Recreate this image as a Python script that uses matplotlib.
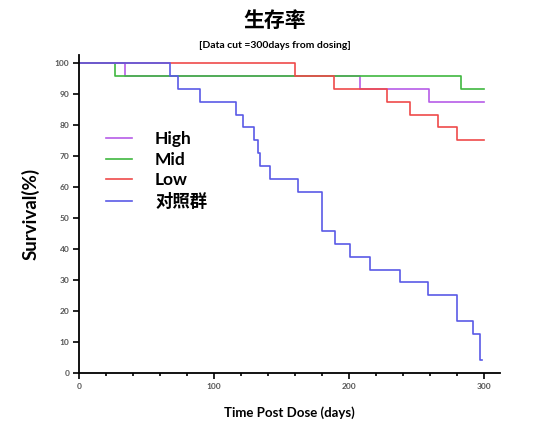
import matplotlib
matplotlib.use("Agg")
import matplotlib.pyplot as plt
from matplotlib.ticker import MultipleLocator

plt.rcParams['font.family'] = ['Lato', 'Noto Sans CJK SC', 'DejaVu Sans']

# Kaplan-Meier step data (day, survival %)
high_t = [0, 34, 208.6, 259, 300]
high_s = [100, 95.8, 91.7, 87.5, 87.5]
mid_t = [0, 27, 283, 300]
mid_s = [100, 95.8, 91.7, 91.7]
low_t = [0, 160, 188.8, 228.4, 245, 266, 280, 300]
low_s = [100, 95.8, 91.7, 87.5, 83.3, 79.2, 75, 75]
ctrl_t = [0, 67.6, 73.6, 90, 116.5, 121.5, 130, 132.4, 134.4, 141.3, 162, 180,
          190, 201, 216, 237.8, 258.8, 280.4, 292, 297, 299]
ctrl_s = [100, 95.8, 91.7, 87.5, 83.3, 79.2, 75, 70.8, 66.7, 62.5, 58.3, 45.8,
          41.7, 37.5, 33.3, 29.2, 25, 16.7, 12.5, 4.2, 4.2]

series = [("High", high_t, high_s, "#b65ce8"),
          ("Mid", mid_t, mid_s, "#3fb83f"),
          ("Low", low_t, low_s, "#ef4a4a"),
          ("对照群", ctrl_t, ctrl_s, "#5a5ae6")]

fig = plt.figure(figsize=(5.58, 4.32), dpi=100)
ax = fig.add_axes([0.1416, 0.1366, 0.7545, 0.7364])

for name, t, s, c in series:
    ax.step(t, s, where="post", color=c, lw=1.2, label=name)

ax.set_xlim(0, 312)
ax.set_ylim(0, 102.6)
ax.xaxis.set_major_locator(MultipleLocator(100))
ax.xaxis.set_minor_locator(MultipleLocator(20))
ax.yaxis.set_major_locator(MultipleLocator(10))
for sp in ["top", "right"]:
    ax.spines[sp].set_visible(False)
for sp in ["left", "bottom"]:
    ax.spines[sp].set_linewidth(1.3)
ax.tick_params(axis="both", which="major", length=4, width=1.2, labelsize=6,
               labelcolor="#555555", pad=3)
ax.tick_params(axis="x", which="minor", length=2.5, width=1.2)
for lab in ax.get_xticklabels() + ax.get_yticklabels():
    lab.set_fontweight("bold")

ax.set_ylabel("Survival(%)", fontsize=13.5, fontweight="bold", labelpad=11)
ax.set_xlabel("Time Post Dose (days)", fontsize=9.5, fontweight="bold", labelpad=12)

fig.text(0.493, 0.952, "生存率", ha="center", va="center", fontsize=15,
         fontweight="bold", family=['Noto Sans CJK SC', 'DejaVu Sans'])
fig.text(0.493, 0.895, "[Data cut =300days from dosing]", ha="center", va="center",
         fontsize=7.5, fontweight="bold")

leg = ax.legend(loc="upper left", bbox_to_anchor=(0.028, 0.809), frameon=False,
                handlelength=1.45, handletextpad=1.35, labelspacing=0.26,
                prop={"weight": "bold", "size": 12.5})

fig.savefig("out.png", dpi=100)
